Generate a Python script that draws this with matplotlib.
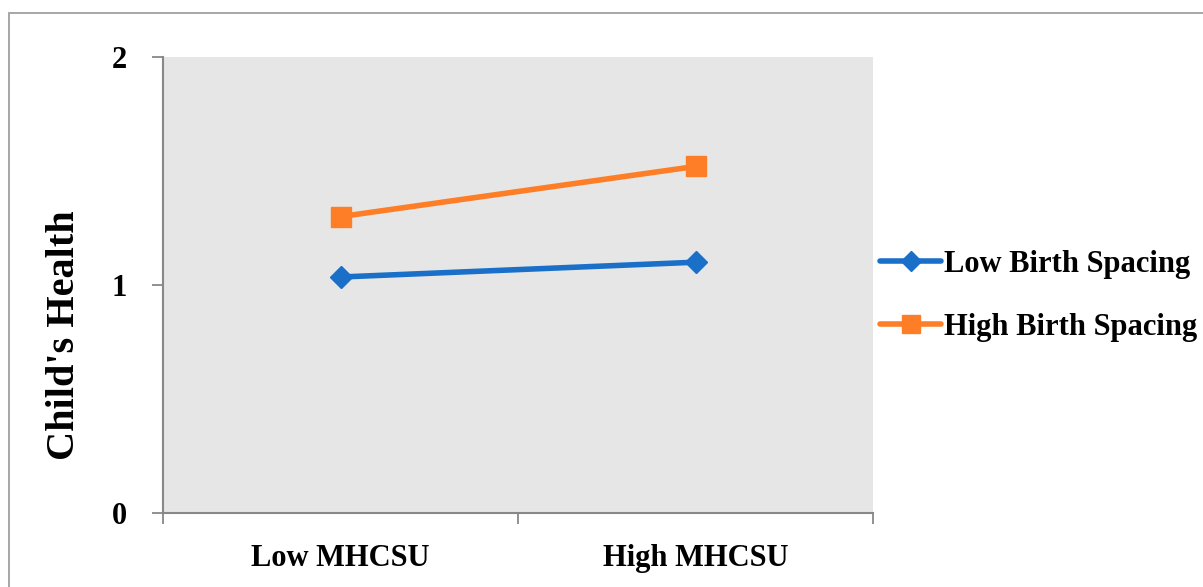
import matplotlib
matplotlib.use("Agg")
import matplotlib.pyplot as plt
from matplotlib.patches import Rectangle
from matplotlib.lines import Line2D

categories = ["Low MHCSU", "High MHCSU"]
low_birth_spacing = [1.035, 1.10]
high_birth_spacing = [1.30, 1.52]
series_names = ["Low Birth Spacing", "High Birth Spacing"]
y_ticks = [0, 1, 2]

BLUE = "#1a70c8"
ORANGE = "#fd7e26"
FONT = ["Liberation Serif", "DejaVu Serif"]

plt.rcParams["font.family"] = FONT
plt.rcParams["font.weight"] = "bold"

W, H = 1203, 587
fig = plt.figure(figsize=(W / 100, H / 100), dpi=100)
fig.patch.set_facecolor("white")
fig.patches.append(Rectangle((8.5 / W, -0.1), 1.2, 1 - 12.5 / H + 0.1,
                             transform=fig.transFigure, fill=False,
                             edgecolor="#a0a0a0", linewidth=1.3))

ax = fig.add_axes([163 / W, 1 - 513 / H, (873 - 163) / W, (513 - 57) / H])
ax.set_facecolor("#e6e6e6")

x = list(range(len(categories)))
ax.plot(x, low_birth_spacing, color=BLUE, lw=4, marker="D", ms=11,
        solid_capstyle="round", zorder=3)
ax.plot(x, high_birth_spacing, color=ORANGE, lw=4, marker="s", ms=14,
        solid_capstyle="round", zorder=3)

ax.set_xlim(-0.5, 1.5)
ax.set_ylim(0, 2)
ax.set_yticks(y_ticks)
ax.set_yticklabels([str(t) for t in y_ticks])
ax.set_xticks(x)
ax.set_xticklabels(categories)
ax.set_xticks([-0.5, 0.5, 1.5], minor=True)
ax.tick_params(axis="x", which="major", length=0, pad=22, labelsize=22)
ax.tick_params(axis="x", which="minor", length=8, width=1.3, color="#888888",
               direction="out")
ax.tick_params(axis="y", length=8, width=1.3, color="#888888", pad=18,
               labelsize=22)
for lbl in ax.get_xticklabels() + ax.get_yticklabels():
    lbl.set_fontweight("bold")

for s in ["top", "right"]:
    ax.spines[s].set_visible(False)
for s in ["left", "bottom"]:
    ax.spines[s].set_color("#888888")
    ax.spines[s].set_linewidth(1.5)

fig.text(64 / W, 1 - 335 / H, "Child's Health", rotation=90, ha="center",
         va="center", fontsize=29, fontweight="bold")

handles = [
    Line2D([0], [0], color=BLUE, lw=4, marker="D", ms=10, solid_capstyle="round"),
    Line2D([0], [0], color=ORANGE, lw=4, marker="s", ms=13, solid_capstyle="round"),
]
leg = fig.legend(handles, series_names, loc="center left",
                 bbox_to_anchor=(880 / W, 1 - 296 / H), frameon=False,
                 prop={"family": FONT, "weight": "bold", "size": 22},
                 handlelength=2.0, handletextpad=0.1, labelspacing=1.1,
                 borderaxespad=0, borderpad=0)

fig.savefig("out.png", dpi=100)
